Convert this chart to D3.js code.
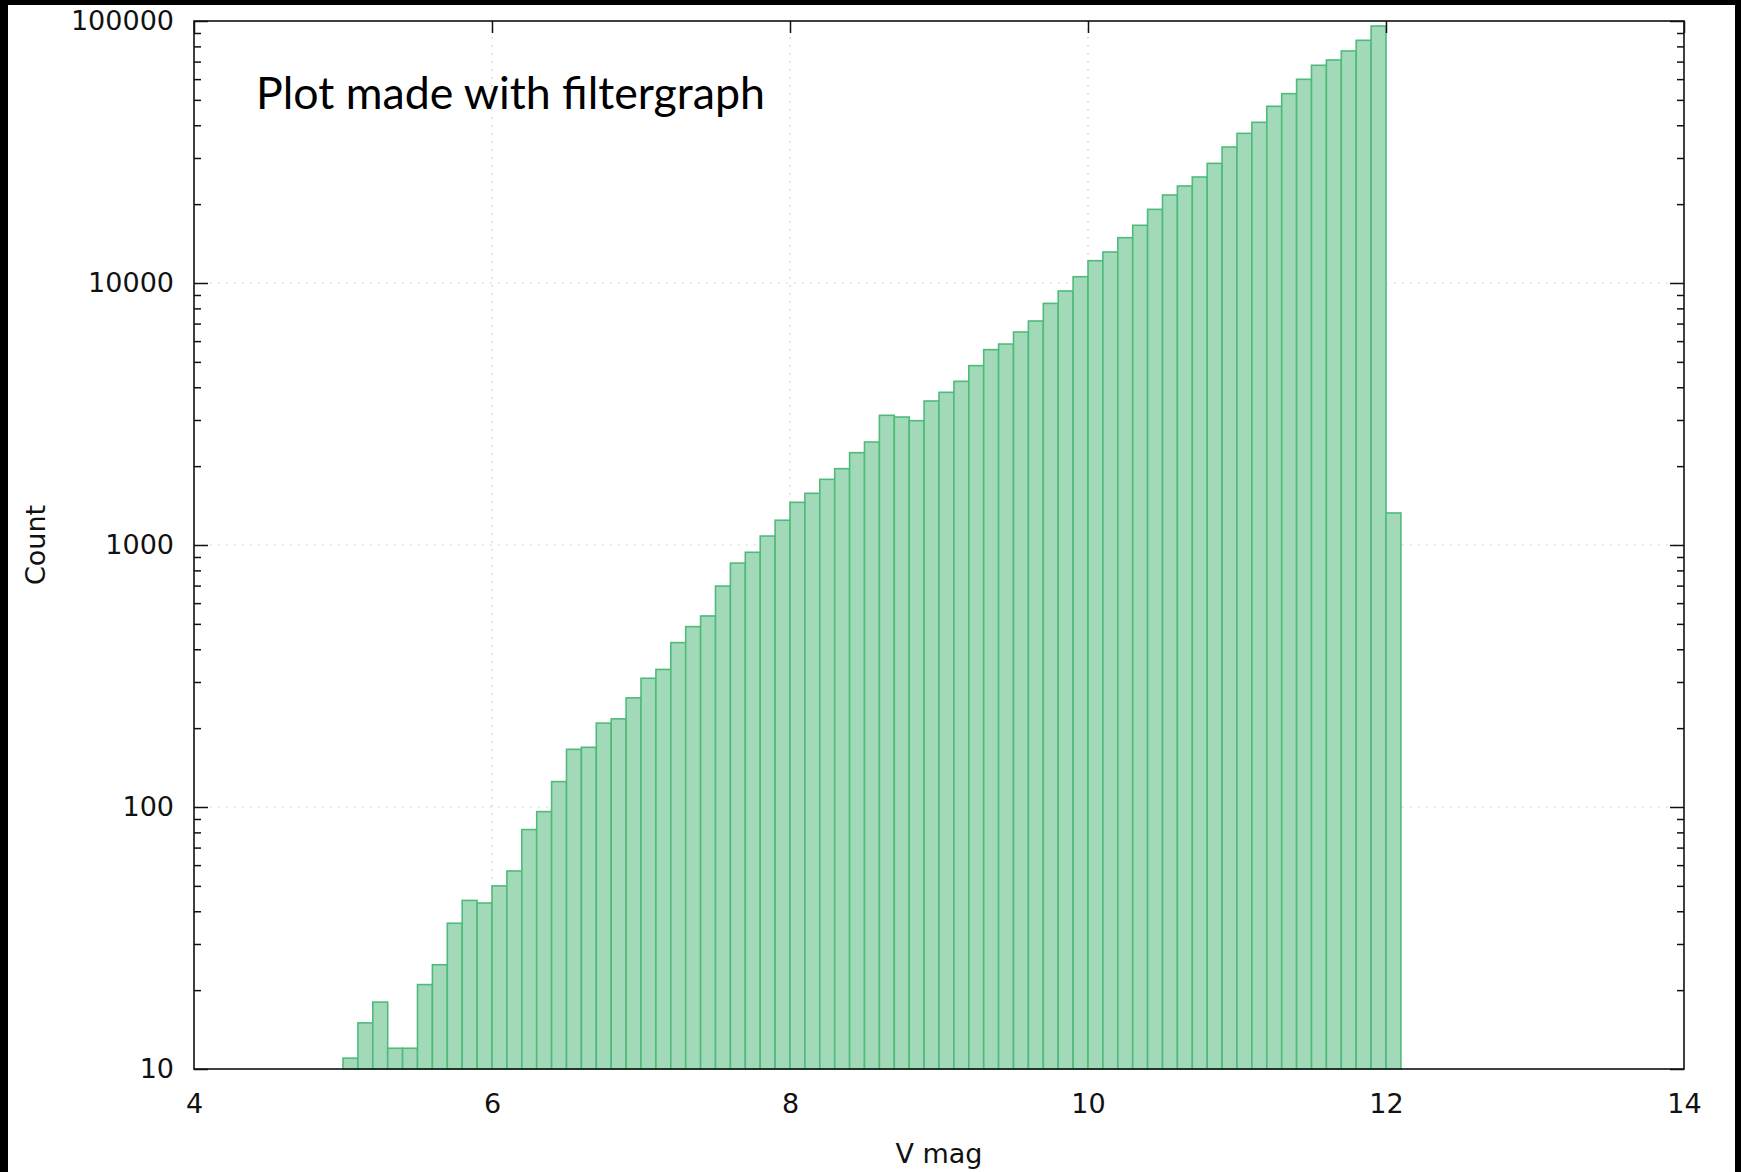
<!DOCTYPE html>
<html>
<head>
<meta charset="utf-8">
<script src="https://cdn.jsdelivr.net/npm/d3@7"></script>
<style>
  html, body { margin: 0; padding: 0; background: #000; }
  svg { display: block; }
</style>
</head>
<body>
<div id="chart"></div>
<script>
// histogram bins (left edge of each 0.1 mag bin)
var binLefts = [5.0, 5.1, 5.2, 5.3, 5.4, 5.5, 5.6, 5.7, 5.8, 5.9,
                6.0, 6.1, 6.2, 6.3, 6.4, 6.5, 6.6, 6.7, 6.8, 6.9,
                7.0, 7.1, 7.2, 7.3, 7.4, 7.5, 7.6, 7.7, 7.8, 7.9,
                8.0, 8.1, 8.2, 8.3, 8.4, 8.5, 8.6, 8.7, 8.8, 8.9,
                9.0, 9.1, 9.2, 9.3, 9.4, 9.5, 9.6, 9.7, 9.8, 9.9,
                10.0, 10.1, 10.2, 10.3, 10.4, 10.5, 10.6, 10.7, 10.8, 10.9,
                11.0, 11.1, 11.2, 11.3, 11.4, 11.5, 11.6, 11.7, 11.8, 11.9,
                12.0];
var binWidth = 0.1;

var counts = [11, 15, 18, 12, 12, 21, 25, 36, 44, 43,
              50, 57, 82, 96, 125, 166, 169, 209, 217, 261,
              310, 335, 424, 488, 536, 697, 853, 938, 1082, 1243,
              1455, 1575, 1781, 1956, 2251, 2472, 3126, 3079, 2982, 3545,
              3826, 4214, 4836, 5566, 5848, 6501, 7161, 8360, 9322, 10569,
              12166, 13131, 14893, 16604, 19104, 21674, 23457, 25385, 28621, 33037,
              37256, 41055, 47254, 52803, 59909, 67762, 70986, 76846, 84383, 95701,
              1325];

var xTicks = [4, 6, 8, 10, 12, 14];
var yTicks = [10, 100, 1000, 10000, 100000];
var yMinor = [20, 30, 40, 50, 60, 70, 80, 90,
              200, 300, 400, 500, 600, 700, 800, 900,
              2000, 3000, 4000, 5000, 6000, 7000, 8000, 9000,
              20000, 30000, 40000, 50000, 60000, 70000, 80000, 90000];

function init() {
    var W = 1741, H = 1172;
    var pLeft = 194, pRight = 1684, pTop = 21, pBottom = 1069;

    var svg = d3.select("#chart").append("svg")
        .attr("width", W)
        .attr("height", H);

    // white page inside a thin black border
    svg.append("rect")
        .attr("x", 8).attr("y", 5)
        .attr("width", 1735 - 8).attr("height", H - 5)
        .attr("fill", "#fff");

    var x = d3.scaleLinear().domain([4, 14]).range([pLeft, pRight]);
    var y = d3.scaleLog().domain([10, 100000]).range([pBottom, pTop]);

    // dotted grid
    var grid = svg.append("g")
        .attr("stroke", "#c8c8c8")
        .attr("stroke-width", 1.2)
        .attr("stroke-dasharray", "1.5,6.5");

    grid.selectAll("line.gx")
        .data(xTicks.slice(1, -1))
        .enter().append("line")
        .attr("class", "gx")
        .attr("x1", function (d) { return x(d); })
        .attr("x2", function (d) { return x(d); })
        .attr("y1", pTop).attr("y2", pBottom);

    grid.selectAll("line.gy")
        .data(yTicks.slice(1, -1))
        .enter().append("line")
        .attr("class", "gy")
        .attr("y1", function (d) { return y(d); })
        .attr("y2", function (d) { return y(d); })
        .attr("x1", pLeft).attr("x2", pRight);

    // bars
    svg.append("g").selectAll("rect")
        .data(binLefts)
        .enter()
        .append("rect")
        .attr("x", function (d) { return x(d); })
        .attr("y", function (d, i) { return y(counts[i]); })
        .attr("width", function (d) { return x(d + binWidth) - x(d); })
        .attr("height", function (d, i) { return y(10) - y(counts[i]); })
        .attr("fill", "#a2dab9")
        .attr("stroke", "#4fbb7b")
        .attr("stroke-width", 1.6);

    var fontStack = "'DejaVu Sans', Verdana, sans-serif";

    // left axis with labels, ticks pointing inward
    svg.append("g")
        .attr("transform", "translate(" + pLeft + ",0)")
        .call(d3.axisLeft(y)
            .tickValues(yTicks)
            .tickFormat(d3.format("d"))
            .tickSize(-14)
            .tickPadding(20));

    svg.append("g")
        .attr("transform", "translate(" + pLeft + ",0)")
        .call(d3.axisLeft(y).tickValues(yMinor).tickFormat("").tickSize(-7));

    // right side mirror ticks
    svg.append("g")
        .attr("transform", "translate(" + pRight + ",0)")
        .call(d3.axisRight(y).tickValues(yTicks).tickFormat("").tickSize(-14));
    svg.append("g")
        .attr("transform", "translate(" + pRight + ",0)")
        .call(d3.axisRight(y).tickValues(yMinor).tickFormat("").tickSize(-7));

    // bottom axis labels
    svg.append("g")
        .attr("transform", "translate(0," + pBottom + ")")
        .call(d3.axisBottom(x).tickValues(xTicks).tickSize(0).tickPadding(25));

    // top mirror ticks
    svg.append("g")
        .attr("transform", "translate(0," + pTop + ")")
        .call(d3.axisTop(x).tickValues(xTicks).tickFormat("").tickSize(-12));

    svg.selectAll(".domain").remove();
    svg.selectAll(".tick line").attr("stroke", "#111").attr("stroke-width", 1.5);
    svg.selectAll(".tick text")
        .attr("font-family", fontStack)
        .attr("font-size", "27px")
        .attr("fill", "#111");

    // frame
    svg.append("rect")
        .attr("x", pLeft).attr("y", pTop)
        .attr("width", pRight - pLeft).attr("height", pBottom - pTop)
        .attr("fill", "none")
        .attr("stroke", "#111")
        .attr("stroke-width", 1.6);

    // axis titles
    svg.append("text")
        .text("V mag")
        .attr("x", (pLeft + pRight) / 2)
        .attr("y", 1163)
        .attr("text-anchor", "middle")
        .attr("font-family", fontStack)
        .attr("font-size", "27px")
        .attr("fill", "#111");

    svg.append("text")
        .text("Count")
        .attr("transform", "translate(45," + ((pTop + pBottom) / 2) + ") rotate(-90)")
        .attr("text-anchor", "middle")
        .attr("font-family", fontStack)
        .attr("font-size", "27px")
        .attr("fill", "#111");

    // annotation
    var note = svg.append("text")
        .text("Plot made with filtergraph")
        .attr("x", 256)
        .attr("y", 109)
        .attr("font-family", "Lato, 'Open Sans', sans-serif")
        .attr("font-size", "36px")
        .attr("fill", "#000");
    var len = note.node().getComputedTextLength();
    note.attr("font-size", (36 * 509 / len) + "px");
}

window.onload = init;
</script>
</body>
</html>
